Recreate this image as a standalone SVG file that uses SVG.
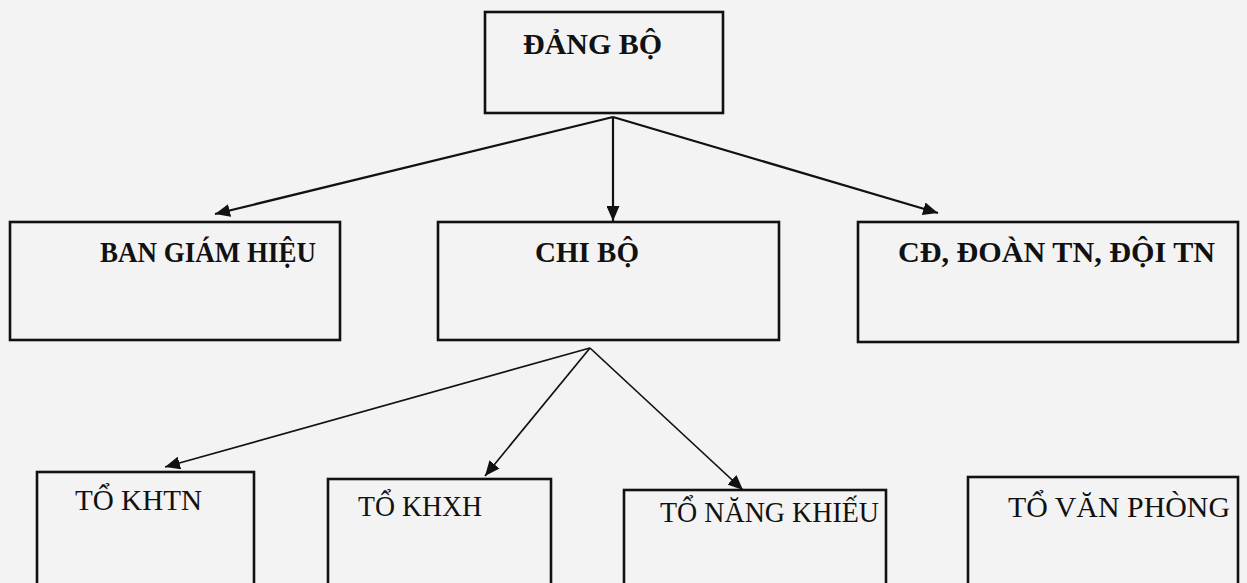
<svg xmlns="http://www.w3.org/2000/svg" width="1247" height="583" viewBox="0 0 1247 583">
  <style>
    .box { fill: none; stroke: #111; stroke-width: 2.6; }
    .tb { font-family: "Liberation Serif", "Times New Roman", serif; font-weight: bold; font-size: 29px; fill: #111; }
    .tr { font-family: "Liberation Serif", "Times New Roman", serif; font-size: 30px; fill: #111; }
    .con { fill: none; stroke: #111; stroke-width: 2.2; marker-end: url(#arr); }
    .con2 { fill: none; stroke: #111; stroke-width: 1.7; marker-end: url(#arr); }
  </style>
  <defs>
    <marker id="arr" viewBox="0 0 15 13" refX="15" refY="6.5" markerWidth="15" markerHeight="13" markerUnits="userSpaceOnUse" orient="auto">
      <path d="M0,0 L15,6.5 L0,13 z" fill="#111"/>
    </marker>
  </defs>
  <rect x="0" y="0" width="1247" height="583" fill="#f3f3f3"/>

  <g id="connectors">
    <line class="con" x1="613" y1="117" x2="215" y2="214"/>
    <line class="con" x1="613" y1="117" x2="613" y2="221"/>
    <line class="con" x1="613" y1="117" x2="938" y2="213"/>
    <line class="con2" x1="590" y1="348" x2="165" y2="467"/>
    <line class="con2" x1="590" y1="348" x2="485" y2="476"/>
    <line class="con2" x1="590" y1="348" x2="743" y2="490"/>
  </g>

  <g id="dang-bo">
    <rect class="box" x="485" y="12" width="238" height="101"/>
    <text class="tb" x="523" y="54" style="font-size:30px">ĐẢNG BỘ</text>
  </g>
  <g id="ban-giam-hieu">
    <rect class="box" x="10" y="222" width="330" height="118"/>
    <text class="tb" x="100" y="262" textLength="216" lengthAdjust="spacingAndGlyphs">BAN GIÁM HIỆU</text>
  </g>
  <g id="chi-bo">
    <rect class="box" x="438" y="222" width="341" height="118"/>
    <text class="tb" x="535" y="262">CHI BỘ</text>
  </g>
  <g id="cd-doan-doi">
    <rect class="box" x="858" y="222" width="380" height="120"/>
    <text class="tb" x="898" y="262" textLength="317" lengthAdjust="spacingAndGlyphs" style="font-size:30px">CĐ, ĐOÀN TN, ĐỘI TN</text>
  </g>
  <g id="to-khtn">
    <rect class="box" x="37" y="472" width="217" height="120"/>
    <text class="tr" x="75" y="510" textLength="127" lengthAdjust="spacingAndGlyphs">TỔ KHTN</text>
  </g>
  <g id="to-khxh">
    <rect class="box" x="328" y="479" width="223" height="120"/>
    <text class="tr" x="358" y="516" textLength="124" lengthAdjust="spacingAndGlyphs">TỔ KHXH</text>
  </g>
  <g id="to-nang-khieu">
    <rect class="box" x="624" y="490" width="262" height="120"/>
    <text class="tr" x="660" y="522" textLength="219" lengthAdjust="spacingAndGlyphs">TỔ NĂNG KHIẾU</text>
  </g>
  <g id="to-van-phong">
    <rect class="box" x="968" y="477" width="270" height="120"/>
    <text class="tr" x="1008" y="517" textLength="222" lengthAdjust="spacingAndGlyphs">TỔ VĂN PHÒNG</text>
  </g>
</svg>
